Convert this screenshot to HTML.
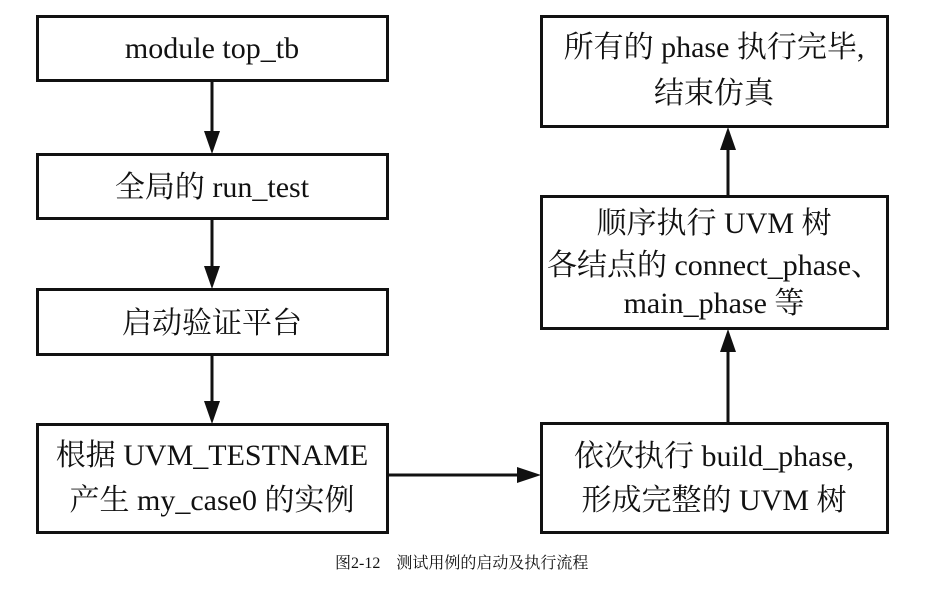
<!DOCTYPE html>
<html><head><meta charset="utf-8"><style>
body{margin:0;background:#fff}
svg text{font-family:"Liberation Serif","Noto Serif CJK SC",serif;font-size:30px;fill:#111}
</style></head><body>
<svg width="926" height="589" viewBox="0 0 926 589" xmlns="http://www.w3.org/2000/svg">
<g fill="none" stroke="#111" stroke-width="3">
<rect x="37.5" y="16.5" width="350" height="64"/>
<rect x="37.5" y="154.5" width="350" height="64"/>
<rect x="37.5" y="289.5" width="350" height="65"/>
<rect x="37.5" y="424.5" width="350" height="108"/>
<rect x="541.5" y="16.5" width="346" height="110"/>
<rect x="541.5" y="196.5" width="346" height="132"/>
<rect x="541.5" y="423.5" width="346" height="109"/>
<line x1="212" y1="81" x2="212" y2="135"/>
<line x1="212" y1="219" x2="212" y2="270"/>
<line x1="212" y1="355" x2="212" y2="405"/>
<line x1="388" y1="475" x2="520" y2="475"/>
<line x1="728" y1="423" x2="728" y2="350"/>
<line x1="728" y1="196" x2="728" y2="148"/>
</g>
<g fill="#111">
<polygon points="204,131 220,131 212,154"/>
<polygon points="204,266 220,266 212,289"/>
<polygon points="204,401 220,401 212,424"/>
<polygon points="517,467 517,483 541,475"/>
<polygon points="720,352 736,352 728,329"/>
<polygon points="720,150 736,150 728,127"/>
</g>
<g text-anchor="middle">
<text x="212" y="58">module top_tb</text>
<text x="212" y="197">全局的 run_test</text>
<text x="212" y="333">启动验证平台</text>
<text x="212" y="465">根据 UVM_TESTNAME</text>
<text x="212" y="510">产生 my_case0 的实例</text>
<text x="714" y="57">所有的 phase 执行完毕,</text>
<text x="714" y="103">结束仿真</text>
<text x="714" y="233">顺序执行 UVM 树</text>
<text x="714" y="275">各结点的 connect_phase、</text>
<text x="714" y="313">main_phase 等</text>
<text x="714" y="466">依次执行 build_phase,</text>
<text x="714" y="510">形成完整的 UVM 树</text>
</g>
<text x="335" y="568" style="font-size:16px">图2-12　测试用例的启动及执行流程</text>
</svg>
</body></html>
